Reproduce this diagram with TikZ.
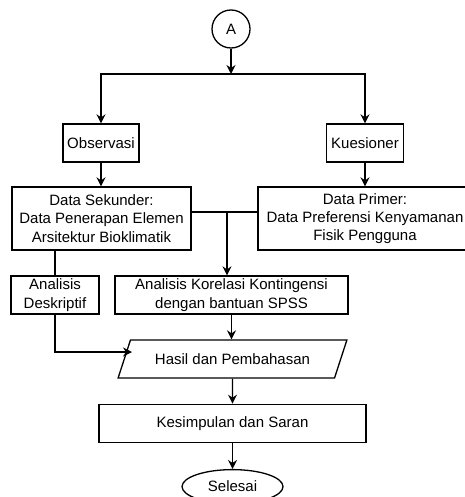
\documentclass[tikz,border=0pt]{standalone}
\usepackage{fontspec}
\setmainfont{Liberation Sans}
\usetikzlibrary{positioning,arrows.meta,shapes.geometric}
\tikzset{
	>={Stealth[length=9pt,width=9pt,inset=3pt]},
	konektor/.style={
		circle,
		draw=black, line width=1.3pt,
		minimum size=38pt,
		inner sep=0pt},
	kotak/.style={
		rectangle,
		% fill=black!10,
		draw=black, line width=1.3pt,
		minimum height=38pt,
		inner sep=2pt,
		align=center},
	jajar/.style={
		trapezium,
		trapezium left angle=61,
		trapezium right angle=119,
		trapezium stretches=true,
		draw=black, line width=1.3pt,
		minimum height=38pt,
		minimum width=229pt},
	bulat/.style={
		ellipse,
		draw=black, line width=1.3pt,
		minimum width=101pt,
		minimum height=34pt},
	garis/.style={draw, line width=1.3pt},
	panah/.style={garis, ->},
}
\begin{document}
\begin{tikzpicture}
			[x=1pt, y=-1pt,
			node distance=25pt,
			every node/.style={font=\fontsize{15}{18.3}\selectfont}]
			\useasboundingbox (0,0) rectangle (464,497);
			\node[konektor] (A) at (231,29) {A};
			\node[kotak, minimum width=76pt] (obs) at (101,143) {Observasi};
			\node[kotak, minimum width=77pt] (kues) at (365,143) {Kuesioner};
			\node[kotak, minimum width=179pt, minimum height=63pt] (sek) at (101.5,218.5) {Data Sekunder:\\Data Penerapan Elemen\\Arsitektur Bioklimatik};
			\node[kotak, minimum width=214pt, minimum height=63pt] (prim) at (365,218.5) {Data Primer:\\Data Preferensi Kenyamanan\\Fisik Pengguna};
			\node[kotak, minimum width=88pt] (desk) at (55,295) {Analisis\\Deskriptif};
			\node[kotak, minimum width=233pt] (kor) at (231.5,295) {Analisis Korelasi Kontingensi\\dengan bantuan SPSS};
			\node[jajar] (hasil) at (232.5,359) {Hasil dan Pembahasan};
			\node[kotak, minimum width=267pt, below=of hasil] (kes) {Kesimpulan dan Saran};
			\node[bulat, below=26pt of kes] (sel) {Selesai};
			\coordinate (cabang) at (231,74);
			\coordinate (gabung) at (227,212);
			\coordinate (masuk) at (132,352);
			\draw[panah] (A) -- (cabang);
			\draw[panah] (cabang) -| (obs);
			\draw[panah] (cabang) -| (kues);
			\draw[panah] (obs.south) -- (obs.south |- sek.north);
			\draw[panah] (kues) -- (prim);
			\draw[garis] (sek.east |- gabung) -- (prim.west |- gabung);
			\draw[panah] (gabung) -- (gabung |- kor.north);
			\draw[garis] (desk.north |- sek.south) -- (desk.north);
			\draw[panah] (desk.south) |- (masuk);
			\draw[panah] (kor.south) -- (kor.south |- hasil.north);
			\draw[panah] (hasil) -- (kes);
			\draw[panah] (kes) -- (sel);
			\end{tikzpicture}
\end{document}
